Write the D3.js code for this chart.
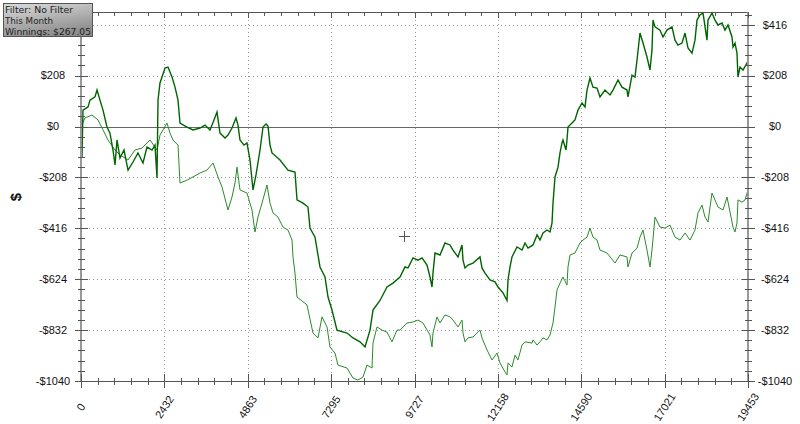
<!DOCTYPE html>
<html><head><meta charset="utf-8">
<script src="https://cdn.jsdelivr.net/npm/d3@7"></script>
<style>html,body{margin:0;padding:0;background:#fff;} svg{display:block;}</style>
</head><body>
<svg id="c" width="800" height="424"></svg>
<script>
const darkHands = [0,29,58,204,262,408,467,554,642,758,846,933,992,1050,1137,1254,1371,1517,1662,1808,1925,2071,2158,2217,2246,2304,2450,2537,2654,2742,2829,2887,3091,3266,3470,3616,3762,3879,3966,4054,4200,4287,4404,4521,4579,4637,4754,4841,4929,5016,5104,5221,5308,5396,5454,5512,5571,5804,6037,6241,6300,6475,6620,6679,6825,6970,7116,7204,7320,7466,7758,7933,8137,8283,8429,8516,8720,8924,9099,9304,9449,9537,9683,9829,9945,10091,10179,10237,10266,10324,10470,10616,10762,10849,10995,11112,11141,11199,11287,11433,11637,11695,11783,11928,12074,12162,12308,12424,12454,12512,12570,12716,12862,12949,13037,13183,13300,13387,13475,13591,13679,13737,13766,13824,13912,13970,14028,14057,14145,14174,14203,14320,14407,14495,14612,14699,14758,14845,14933,15050,15137,15283,15428,15516,15662,15778,15924,15953,16070,16157,16216,16303,16391,16507,16595,16653,16682,16741,16886,16974,17090,17236,17324,17411,17528,17616,17703,17820,17907,17966,18053,18141,18257,18286,18403,18490,18578,18695,18782,18870,18986,19016,19074,19132,19161,19220,19307,19453];
const darkWinnings = [2,-125,67,80,108,121,149,108,67,-2,-27,-96,-157,-55,-129,-96,-178,-145,-108,-149,-84,-96,-76,-210,108,178,239,243,202,161,108,14,-2,-14,-6,6,-14,27,59,-27,-47,-35,-6,35,6,-55,-76,-67,-137,-259,-198,-96,-2,10,2,-76,-108,-137,-178,-186,-300,-313,-329,-415,-452,-574,-615,-697,-750,-832,-844,-864,-880,-901,-832,-750,-711,-656,-640,-615,-574,-578,-537,-546,-537,-566,-615,-656,-599,-517,-525,-476,-484,-505,-533,-484,-546,-578,-566,-558,-533,-578,-599,-627,-635,-656,-680,-711,-627,-574,-533,-492,-505,-476,-497,-484,-443,-464,-435,-423,-431,-394,-313,-206,-166,-108,-67,-55,-96,-55,-2,14,27,67,96,80,149,198,161,157,121,149,129,149,190,161,149,121,210,202,272,382,341,284,231,313,435,407,394,366,394,407,353,333,341,382,321,300,353,435,456,464,353,435,464,435,415,423,394,415,366,325,341,300,202,243,231,267.05];
const lightHands = [0,117,321,496,642,787,992,1137,1371,1575,1779,2012,2217,2304,2392,2508,2596,2683,2829,2887,3091,3266,3470,3675,3850,3996,4112,4287,4404,4491,4550,4637,4841,4987,5075,5162,5279,5425,5512,5600,5745,5891,6037,6154,6183,6241,6300,6591,6766,6912,7029,7175,7262,7408,7495,7758,7933,8079,8224,8341,8487,8516,8633,8779,8924,9070,9216,9304,9508,9683,9829,9974,10179,10237,10266,10383,10470,10616,10762,10849,10995,11112,11141,11199,11287,11433,11637,11695,11841,11987,12133,12220,12366,12424,12454,12570,12658,12745,12862,12949,13154,13183,13300,13387,13475,13591,13679,13737,13766,13824,13883,13970,14057,14174,14203,14262,14407,14553,14641,14758,14845,14933,15050,15137,15341,15574,15720,15924,15953,16070,16216,16303,16391,16507,16595,16653,16741,16886,17032,17178,17324,17470,17616,17762,17907,17995,18111,18199,18286,18403,18490,18578,18724,18841,18928,19016,19074,19132,19161,19278,19366,19453];
const lightWinnings = [-2,35,47,27,-14,-55,-96,-116,-137,-96,-88,-55,-96,-35,-14,14,-27,-55,-76,-231,-219,-206,-190,-178,-149,-206,-247,-341,-288,-231,-166,-259,-272,-341,-431,-370,-313,-239,-313,-353,-370,-411,-423,-464,-533,-599,-697,-729,-844,-864,-778,-819,-901,-926,-975,-987,-1028,-1036,-1024,-975,-987,-885,-819,-832,-840,-880,-832,-832,-803,-799,-791,-803,-852,-901,-844,-778,-803,-770,-778,-791,-819,-791,-844,-880,-864,-860,-832,-864,-913,-954,-926,-966,-1003,-1015,-966,-983,-934,-954,-893,-880,-885,-872,-893,-880,-864,-872,-852,-819,-803,-738,-668,-640,-615,-648,-574,-525,-517,-476,-464,-452,-415,-452,-464,-505,-517,-558,-525,-533,-574,-517,-497,-452,-423,-505,-574,-505,-370,-411,-415,-403,-452,-464,-435,-464,-423,-353,-321,-370,-390,-272,-300,-329,-341,-288,-349,-411,-431,-394,-300,-309,-300,-259];
const xTickValues = [0,2432,4863,7295,9727,12158,14590,17021,19453];
const yTickValues = [-1040,-832,-624,-416,-208,0,208,416];
const legendLines = ["Filter: No Filter","This Month","Winnings: $267.05"];
const yTitle = "$";

const svg = d3.select("#c");
const L = 81, R = 748, T = 12, B = 381;
const x = d3.scaleLinear().domain([0, 19453]).range([L, R]);
const y = d3.scaleLinear().domain([-1040, 468]).range([B, T]);
const fmt = v => (v < 0 ? "-$" : "$") + Math.abs(v);

const xMinor = d3.range(0, 41).map(i => i * 19453/40);
const yMinor = d3.range(0, 37).map(i => -1040 + i*41.6).filter(v => v <= 468);

// grid
const g = svg.append("g");
g.selectAll("line.gx").data(xTickValues.slice(1, -1)).join("line")
  .attr("x1", d => Math.round(x(d))+0.5).attr("x2", d => Math.round(x(d))+0.5)
  .attr("y1", T).attr("y2", B).attr("stroke", "#9a9a9a").attr("stroke-dasharray", "1,3");
g.selectAll("line.gy").data(yTickValues.filter(v => v !== 0 && v !== -1040)).join("line")
  .attr("x1", L).attr("x2", R)
  .attr("y1", d => Math.round(y(d))+0.5).attr("y2", d => Math.round(y(d))+0.5)
  .attr("stroke", "#9a9a9a").attr("stroke-dasharray", "1,3");
g.append("line").attr("x1", L).attr("x2", R).attr("y1", Math.round(y(0))+0.5).attr("y2", Math.round(y(0))+0.5)
  .attr("stroke", "#666").attr("stroke-width", 1);

// series
const line = d3.line().x(d => x(d[0])).y(d => y(d[1]));
svg.append("path").datum(d3.zip(lightHands, lightWinnings))
  .attr("d", line).attr("fill", "none").attr("stroke", "#2a8a2a").attr("stroke-width", 1);
svg.append("path").datum(d3.zip(darkHands, darkWinnings))
  .attr("d", line).attr("fill", "none").attr("stroke", "#006400").attr("stroke-width", 1.4);

// axes frame
const ax = svg.append("g").attr("stroke", "#555");
ax.append("line").attr("x1", L).attr("x2", R).attr("y1", B+0.5).attr("y2", B+0.5);
ax.append("line").attr("x1", L).attr("x2", R).attr("y1", T+0.5).attr("y2", T+0.5);
ax.append("line").attr("x1", L).attr("x2", L).attr("y1", T).attr("y2", B).attr("stroke", "#999").attr("stroke-width", 2);
ax.append("line").attr("x1", R).attr("x2", R).attr("y1", T).attr("y2", B).attr("stroke", "#999").attr("stroke-width", 2);

ax.selectAll("line.xmb").data(xMinor).join("line")
  .attr("x1", d => Math.round(x(d))+0.5).attr("x2", d => Math.round(x(d))+0.5)
  .attr("y1", B-3).attr("y2", B+4);
ax.selectAll("line.xmt").data(xMinor).join("line")
  .attr("x1", d => Math.round(x(d))+0.5).attr("x2", d => Math.round(x(d))+0.5)
  .attr("y1", T).attr("y2", T+4);
ax.selectAll("line.xMb").data(xTickValues).join("line")
  .attr("x1", d => Math.round(x(d))+0.5).attr("x2", d => Math.round(x(d))+0.5)
  .attr("y1", B-7).attr("y2", B+7);
ax.selectAll("line.xMt").data(xTickValues).join("line")
  .attr("x1", d => Math.round(x(d))+0.5).attr("x2", d => Math.round(x(d))+0.5)
  .attr("y1", T).attr("y2", T+6);
[L, R].forEach(px => {
  ax.append("g").selectAll("line").data(yMinor).join("line")
    .attr("x1", px-3).attr("x2", px+4)
    .attr("y1", d => Math.round(y(d))+0.5).attr("y2", d => Math.round(y(d))+0.5);
  ax.append("g").selectAll("line").data(yTickValues).join("line")
    .attr("x1", px-6).attr("x2", px+7)
    .attr("y1", d => Math.round(y(d))+0.5).attr("y2", d => Math.round(y(d))+0.5);
});

// y labels (left top label is hidden under the legend box in the reference)
const lab = svg.append("g").attr("font-family", "'Liberation Sans', Arial, sans-serif").attr("font-size", 11).attr("fill", "#111");
lab.append("g").selectAll("text").data(yTickValues.filter(v => y(v) > 40)).join("text")
  .attr("x", 53).attr("y", d => y(d)).attr("dy", "0.35em").attr("text-anchor", "middle").text(fmt);
lab.append("g").selectAll("text").data(yTickValues).join("text")
  .attr("x", 775).attr("y", d => y(d)).attr("dy", "0.35em").attr("text-anchor", "middle").text(fmt);
lab.append("g").selectAll("text").data(xTickValues).join("text")
  .attr("transform", d => `translate(${x(d)},407) rotate(-57)`)
  .attr("text-anchor", "middle").attr("dy", "0.35em").text(d => d);

svg.append("text").attr("transform", "translate(16,197) rotate(-90)")
  .attr("text-anchor", "middle").attr("dy", "0.35em")
  .attr("font-family", "'Liberation Sans', Arial, sans-serif").attr("font-weight", "bold").attr("font-size", 15)
  .attr("fill", "#111").text(yTitle);

// crosshair
const ch = svg.append("g").attr("stroke", "#555");
ch.append("line").attr("x1", 399).attr("x2", 410).attr("y1", 236.5).attr("y2", 236.5);
ch.append("line").attr("x1", 404.5).attr("x2", 404.5).attr("y1", 231).attr("y2", 242);

// legend
const defs = svg.append("defs");
const grad = defs.append("linearGradient").attr("id", "lg").attr("x1", 0).attr("y1", 0).attr("x2", 0.4).attr("y2", 1);
grad.append("stop").attr("offset", 0).attr("stop-color", "#dcdcdc");
grad.append("stop").attr("offset", 1).attr("stop-color", "#8e8e8e");
svg.append("rect").attr("x", 3.5).attr("y", 3.5).attr("width", 89).attr("height", 33)
  .attr("fill", "url(#lg)").attr("stroke", "#555");
const legendWidths = [68, 48, 86];
svg.append("g").selectAll("text").data(legendLines).join("text")
  .attr("x", 5).attr("y", (d, i) => 12.5 + i*11)
  .attr("font-family", "'DejaVu Sans', Verdana, sans-serif").attr("font-size", 9.5)
  .attr("textLength", (d, i) => legendWidths[i]).attr("lengthAdjust", "spacingAndGlyphs")
  .attr("fill", "#222").text(d => d);
</script>
</body></html>
